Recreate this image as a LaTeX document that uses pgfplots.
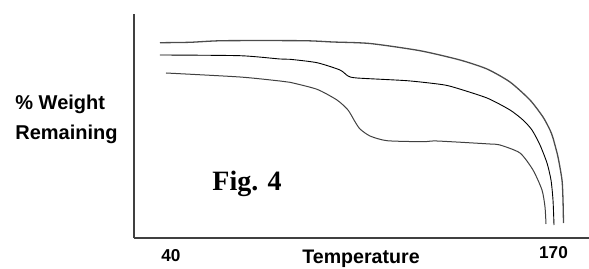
\documentclass[border=0pt]{standalone}
\usepackage{pgfplots}
\pgfplotsset{compat=1.18}
\usepackage{fontspec}
\setmainfont{Liberation Sans}
\newfontfamily\timesfont{Liberation Serif}
\begin{document}
\begin{tikzpicture}
\useasboundingbox (0,0) rectangle (294.5pt,134pt);
\begin{axis}[
  at={(67pt,15pt)}, anchor=south west,
  scale only axis, width=227.5pt, height=112pt,
  xmin=134, xmax=589, ymin=30, ymax=254,
  axis x line=bottom, axis y line=left,
  axis line style={-, black!75, line width=0.6pt},
  xtick=\empty, ytick=\empty,
  clip=false,
]
% top curve
\addplot[gray!60!black, line width=0.65pt, smooth, tension=0.4] coordinates {
(160,225.3) (190,225.7) (223,227.3) (303,227.3) (333,226) (370,224.5)
(420,217.3) (460,208) (487,199) (510,186) (530,168) (543,151)
(550,138) (553,130) (558,111) (562,88) (563,68) (563.5,45)};
% middle curve
\addplot[black, line width=0.45pt, smooth, tension=0.4] coordinates {
(160,213) (240,212.3) (280,209) (290,208.7) (317,205.3) (340,198)
(348,192) (357,190) (407,187.3) (440,183.7) (453,181) (487,170)
(510,158) (523,148) (532,138) (540,123) (547,105) (551,88) (553,68) (554,43)};
% bottom curve
\addplot[black!75, line width=0.5pt, smooth, tension=0.4] coordinates {
(166,195) (240,191) (280,187) (290,185.7) (317,178.7) (337,168)
(348,158) (355,146.3) (360,139) (370,132) (387,127.3) (423,126.3)
(437,127) (490,124) (500,123) (520,115) (533,98) (542,78) (545,61) (546,44)};
\node[anchor=base west, inner sep=0, font=\fontsize{10}{12}\selectfont\bfseries] at (axis cs:15,158) {\% Weight};
\node[anchor=base west, inner sep=0, font=\fontsize{10}{12}\selectfont\bfseries] at (axis cs:15,128) {Remaining};
\node[anchor=base west, inner sep=0, font=\fontsize{14}{16}\selectfont\bfseries\timesfont] at (axis cs:212,77) {Fig. 4};
\node[anchor=base, inner sep=0, font=\fontsize{8.6}{10}\selectfont\bfseries] at (axis cs:171,7) {40};
\node[anchor=base, inner sep=0, font=\fontsize{8.6}{10}\selectfont\bfseries] at (axis cs:553.5,10) {170};
\node[anchor=base west, inner sep=0, font=\fontsize{9.8}{12}\selectfont\bfseries] at (axis cs:302,5) {Temperature};
\end{axis}
\end{tikzpicture}
\end{document}
